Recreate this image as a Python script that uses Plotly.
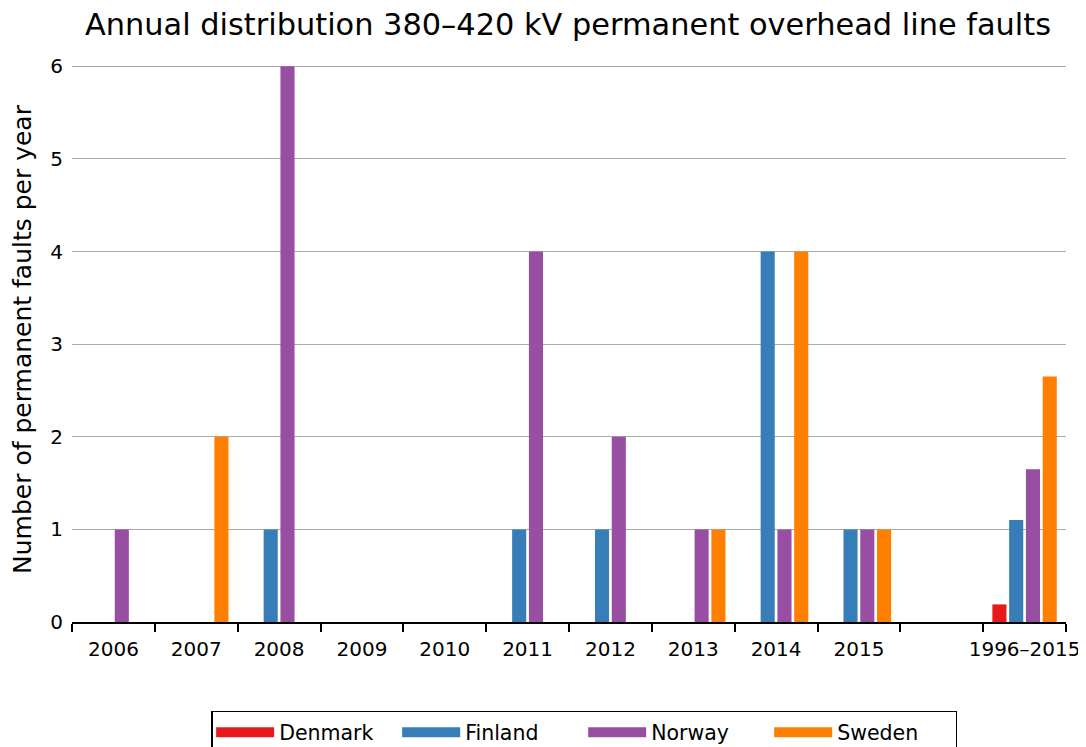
import plotly.graph_objects as go

# categories (blank slot separates the yearly bars from the long-term average)
years = ["2006", "2007", "2008", "2009", "2010", "2011", "2012",
         "2013", "2014", "2015", " ", "1996–2015"]

# permanent faults per year, None where no bar is drawn
denmark = [None, None, None, None, None, None, None, None, None, None, None, 0.19]
finland = [None, None, 1, None, None, 1, 1, None, 4, 1, None, 1.1]
norway = [1, None, 6, None, None, 4, 2, 1, 1, 1, None, 1.65]
sweden = [None, 2, None, None, None, None, None, 1, 4, 1, None, 2.65]

series = [("Denmark", denmark, "#e41a1c"),
          ("Finland", finland, "#377eb8"),
          ("Norway", norway, "#984ea3"),
          ("Sweden", sweden, "#ff7f00")]

fig = go.Figure()
for name, vals, color in series:
    fig.add_trace(go.Bar(x=years, y=vals, name=name, legendgroup=name, showlegend=False,
                         marker=dict(color=color, line=dict(width=0))))
    # empty line trace only to get a wide rectangular legend key
    fig.add_trace(go.Scatter(x=[None], y=[None], name=name, legendgroup=name,
                             mode="lines", line=dict(color=color, width=14)))

# page body adds an 8px margin, so the figure is a bit smaller than the window
fig.update_layout(
    width=1078, height=739,
    font=dict(family="DejaVu Sans", color="black"),
    title=dict(text="Annual distribution 380–420 kV permanent overhead line faults",
               xref="paper", x=0.499, xanchor="center", y=0.978, yanchor="middle",
               font=dict(size=30.4)),
    barmode="group", bargap=0.19, bargroupgap=0.16,
    plot_bgcolor="white", paper_bgcolor="white",
    margin=dict(l=64, r=20, t=49, b=125, autoexpand=False),
    legend=dict(orientation="h", x=0.14, xanchor="left", y=-0.1575, yanchor="top",
                bordercolor="black", borderwidth=1.5, font=dict(size=20.5),
                itemwidth=58, entrywidth=113),
)

fig.update_xaxes(type="category", categoryorder="array", categoryarray=years,
                 range=[-0.5, 11.5], showline=True, linecolor="black", linewidth=1.5,
                 ticks="outside", tickson="boundaries", ticklen=8, tickwidth=1.5,
                 tickcolor="black", tickfont=dict(size=20), tickangle=0,
                 ticklabelstandoff=8, showgrid=False, automargin=False)

fig.update_yaxes(range=[0, 6.1], tickvals=[0, 1, 2, 3, 4, 5, 6],
                 showgrid=True, gridcolor="#aaaaaa", gridwidth=1, zeroline=False,
                 showline=False, ticks="", ticklabelstandoff=8,
                 tickfont=dict(size=20), automargin=False,
                 title=dict(text="Number of permanent faults per year",
                            font=dict(size=25), standoff=20))

fig.write_html("out.html")
